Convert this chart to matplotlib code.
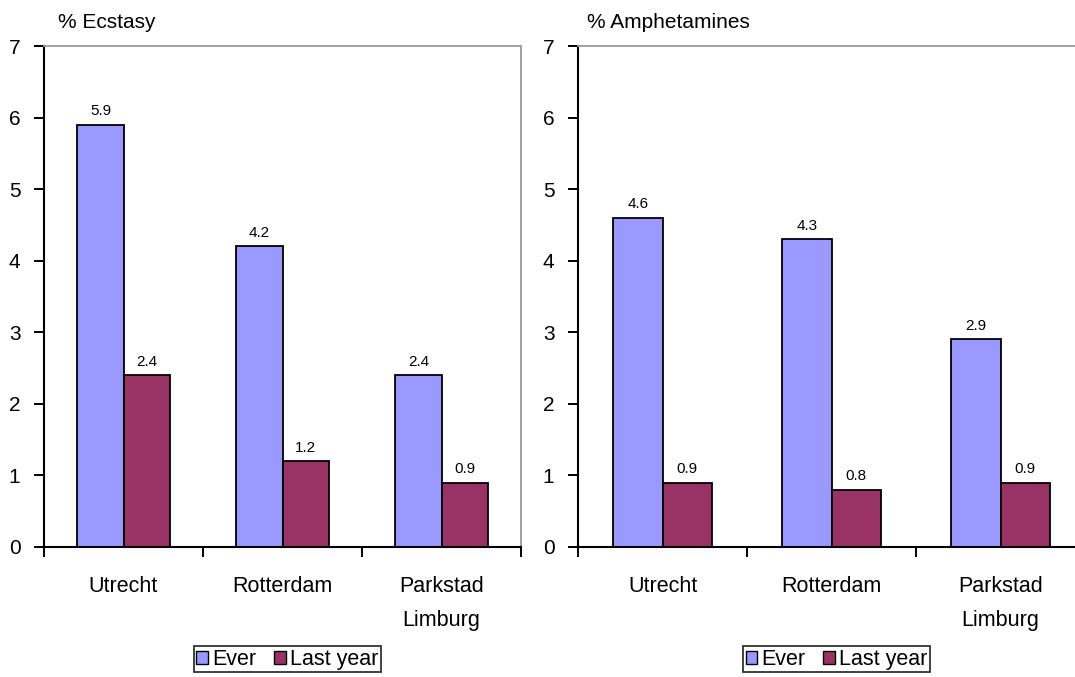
import matplotlib
matplotlib.use('Agg')
import matplotlib.pyplot as plt
from matplotlib.patches import Patch
import numpy as np

plt.rcParams['font.family'] = ['Liberation Sans', 'DejaVu Sans']

cities = ['Utrecht', 'Rotterdam', 'Parkstad\nLimburg']
ecstasy_ever = [5.9, 4.2, 2.4]
ecstasy_last = [2.4, 1.2, 0.9]
amph_ever = [4.6, 4.3, 2.9]
amph_last = [0.9, 0.8, 0.9]

EVER = '#9999FF'
LAST = '#993366'

W, H = 1075, 677
fig = plt.figure(figsize=(W / 100, H / 100), dpi=100)
# panel boxes in pixels: left, bottom(from top), width
axL = fig.add_axes([44 / W, 1 - 547 / H, 477 / W, 501 / H])
axR = fig.add_axes([578 / W, 1 - 547 / H, 507 / W, 501 / H])


def draw_panel(ax, ever, last, title, title_x):
    x = np.arange(len(cities)) + 0.5
    w = 0.29
    ax.bar(x - w / 2, ever, w, color=EVER, edgecolor='black', linewidth=1.3)
    ax.bar(x + w / 2, last, w, color=LAST, edgecolor='black', linewidth=1.3)
    for xi, v in zip(x - w / 2, ever):
        ax.text(xi, v + 0.09, str(v), ha='center', va='bottom', fontsize=11)
    for xi, v in zip(x + w / 2, last):
        ax.text(xi, v + 0.09, str(v), ha='center', va='bottom', fontsize=11)

    ax.set_xlim(0, 3)
    ax.set_ylim(0, 7)
    ax.set_yticks(range(8))
    ax.tick_params(axis='y', direction='out', length=7, width=1.4,
                   labelsize=15, pad=10)
    ax.set_xticks([0, 1, 2, 3])
    ax.set_xticklabels([])
    ax.tick_params(axis='x', direction='out', length=7, width=1.4)

    # category names, one text per line
    for xi, name in zip(x, cities):
        for k, line in enumerate(name.split('\n')):
            ax.text(xi, -0.41 - k * 0.47, line, ha='center', va='top',
                    fontsize=15.5)

    ax.spines['left'].set_linewidth(1.5)
    ax.spines['bottom'].set_linewidth(1.5)
    ax.spines['top'].set_color('#999999')
    ax.spines['right'].set_color('#999999')
    ax.spines['top'].set_linewidth(1.3)
    ax.spines['right'].set_linewidth(1.3)

    fig.text(title_x, 1 - 22 / H, title, fontsize=15, va='center', ha='left')

    handles = [Patch(facecolor=EVER, edgecolor='black', label='Ever'),
               Patch(facecolor=LAST, edgecolor='black', label='Last year')]
    leg = ax.legend(handles=handles, loc='upper center',
                    bbox_to_anchor=(0.51, -0.198), ncol=2, fontsize=15.5,
                    frameon=True, fancybox=False, handlelength=0.55,
                    handleheight=0.55, handletextpad=0.2, columnspacing=0.8,
                    borderpad=0.12, borderaxespad=0)
    leg.get_frame().set_edgecolor('black')
    leg.get_frame().set_linewidth(1.3)


draw_panel(axL, ecstasy_ever, ecstasy_last, '% Ecstasy', 58 / W)
draw_panel(axR, amph_ever, amph_last, '% Amphetamines', 587 / W)

fig.savefig('out.png', dpi=100)
